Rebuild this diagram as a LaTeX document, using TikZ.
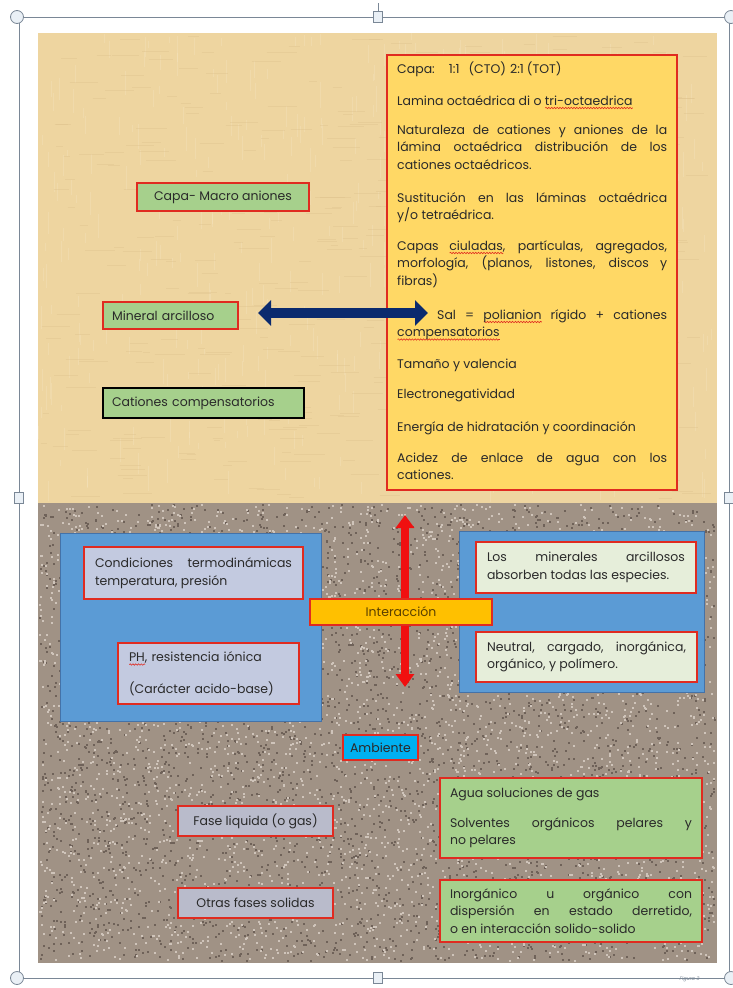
\documentclass[tikz,border=0pt]{standalone}
\usepackage{fontspec}
\setmainfont{Poppins}
\usetikzlibrary{arrows.meta,decorations.pathmorphing}
\hyphenpenalty=10000
\exhyphenpenalty=10000
\definecolor{tan}{HTML}{EED5A0}
\definecolor{tanlight}{HTML}{F6E6C2}
\definecolor{tandark}{HTML}{DCC08A}
\definecolor{granite}{HTML}{A09285}
\definecolor{gdark}{HTML}{6F6259}
\definecolor{glight}{HTML}{CFC4BA}
\definecolor{yfill}{HTML}{FFD865}
\definecolor{redb}{HTML}{E02B20}
\definecolor{gfill}{HTML}{A6D08C}
\definecolor{bfill}{HTML}{5B9BD5}
\definecolor{bline}{HTML}{4472A8}
\definecolor{lav}{HTML}{C3CAE0}
\definecolor{fasefill}{HTML}{B9BBCB}
\definecolor{cream}{HTML}{E6EEDA}
\definecolor{ofill}{HTML}{FFC000}
\definecolor{cyanf}{HTML}{00B0F0}
\definecolor{navy}{HTML}{0A2A6E}
\definecolor{rarrow}{HTML}{F01010}
\definecolor{txt}{HTML}{2A2A2A}
\definecolor{intxt}{HTML}{5A4000}
\definecolor{framec}{HTML}{7A8796}
\definecolor{handlef}{HTML}{EAF0F6}
\newsavebox\wvbox
\newcommand{\rwave}[1]{\sbox\wvbox{#1}\leavevmode\rlap{\raisebox{-3pt}[0pt][0pt]{\tikz[baseline=0pt]\draw[redb, fill=none, line width=0.6pt, decorate, decoration={snake, amplitude=0.7pt, segment length=2.8pt}] (0pt,0pt) -- (\the\wd\wvbox,0pt);}}\usebox\wvbox}
\tikzset{
  every node/.style={font=\fontsize{12.5}{17.5}\selectfont, text=txt},
  bx/.style={draw=redb, line width=1.2pt, inner sep=0pt},
  ybox/.style={bx, fill=yfill},
  gbox/.style={bx, fill=gfill},
  para/.style={text width=270pt, align=justify, inner sep=0pt, anchor=base west},
  bluebox/.style={draw=bline, line width=1pt, fill=bfill, inner sep=0pt},
  lavbox/.style={bx, fill=lav},
  creambox/.style={bx, fill=cream},
  fasebox/.style={bx, fill=fasefill},
  framel/.style={draw=framec, line width=0.8pt},
  chandle/.style={draw=framec, fill=handlef, line width=0.8pt, circle, minimum size=13pt, inner sep=0pt},
  shandle/.style={draw=framec, fill=handlef, line width=0.8pt, rectangle, minimum width=9pt, minimum height=11pt, inner sep=0pt},
}
\begin{document}
\begin{tikzpicture}[x=1pt,y=-1pt]
\useasboundingbox (0,0) rectangle (733,988);
\fill[white] (0,0) rectangle (733,988);
% frame
\draw[framel] (19,17) rectangle (729,978);
\draw[framel] (378,3) -- (378,17);
% papyrus background
\fill[tan] (38,33) rectangle (717,503);
\pgfmathsetseed{11}
\foreach \i in {1,...,450}{
  \pgfmathsetmacro{\xx}{38+675*rnd}
  \pgfmathsetmacro{\yy}{33+450*rnd}
  \pgfmathsetmacro{\ll}{6+20*rnd}
  \draw[tanlight, line width=1pt, opacity=0.35] (\xx,\yy) -- ++(0,\ll);
}
\foreach \i in {1,...,450}{
  \pgfmathsetmacro{\xx}{38+650*rnd}
  \pgfmathsetmacro{\yy}{35+466*rnd}
  \pgfmathsetmacro{\ll}{6+25*rnd}
  \draw[tandark, line width=0.8pt, opacity=0.35] (\xx,\yy) -- ++(\ll,0);
}
% granite background
\fill[granite] (38,503) rectangle (717,963);
\foreach \i in {1,...,3500}{
  \pgfmathsetmacro{\xx}{39+675*rnd}
  \pgfmathsetmacro{\yy}{504+456*rnd}
  \fill[gdark] (\xx,\yy) rectangle ++(2,2);
}
\foreach \i in {1,...,3500}{
  \pgfmathsetmacro{\xx}{39+675*rnd}
  \pgfmathsetmacro{\yy}{504+456*rnd}
  \fill[glight] (\xx,\yy) rectangle ++(2,2);
}
% handles
\node[chandle] (h1) at (17,17) {};
\node[chandle] (h2) at (731,17) {};
\node[chandle] (h3) at (17,978) {};
\node[chandle] (h4) at (731,978) {};
\node[shandle] (h5) at (378,17) {};
\node[shandle] (h6) at (378,978) {};
\node[shandle] (h7) at (19,498) {};
\node[shandle] (h8) at (729,498) {};
\node[font=\fontsize{5}{6}\selectfont\itshape, text=framec, anchor=base west] (fig) at (676,980) {Figura 3};

% upper part
\node[ybox, minimum width=290pt, minimum height=435pt] (props) at (532,272.5) {};
\node[para] (p1) at (397,73) {Capa:\hspace{14pt}1:1\hspace{9pt}(CTO)\hspace{4pt}2:1\hspace{3pt}(TOT)};
\node[para] (p2) at (397,105) {Lamina octaédrica di o \rwave{tri-octaedrica}};
\node[para] (p3) at (397,134) {Naturaleza de cationes y aniones de la\linebreak lámina octaédrica distribución de los\linebreak cationes octaédricos.};
\node[para] (p4) at (397,202) {Sustitución en las láminas octaédrica\linebreak y/o tetraédrica.};
\node[para] (p5) at (397,250) {Capas \rwave{ciuladas}, partículas, agregados,\linebreak morfología, (planos, listones, discos y\linebreak fibras)};
\node[para] (p6) at (397,319) {\hspace*{40pt}Sal = \rwave{polianion} rígido + cationes\linebreak \rwave{compensatorios}};
\node[para] (p7) at (397,368) {Tamaño y valencia};
\node[para] (p8) at (397,398) {Electronegatividad};
\node[para] (p9) at (397,431) {Energía de hidratación y coordinación};
\node[para] (p10) at (397,462) {Acidez de enlace de agua con los\linebreak cationes.};

\node[gbox, minimum width=172pt, minimum height=28pt] (capa) at (223,197) {Capa- Macro aniones};
\node[gbox, minimum width=135pt, minimum height=27pt, text width=117pt, align=left] (mineral) at (170.5,315.5) {Mineral arcilloso};
\node[gbox, draw=black, minimum width=201pt, minimum height=30pt, text width=183pt, align=left] (cationes) at (203.5,403) {Cationes compensatorios};

\coordinate (ba) at (258,313);
\coordinate (bb) at (428,313);
\draw[navy, line width=10pt, {Triangle[length=13pt,width=25pt]}-{Triangle[length=13pt,width=25pt]}] (ba) -- (bb);

% lower part
\node[bluebox, minimum width=261pt, minimum height=188pt] (lblue) at (190.5,627) {};
\node[lavbox, minimum width=219pt, minimum height=52pt, text width=197pt, align=justify] (cond) at (193.5,573) {Condiciones termodinámicas\linebreak temperatura, presión};
\node[lavbox, minimum width=181pt, minimum height=61pt, text width=159pt, align=left] (ph) at (208.5,673.5) {\rwave{PH}, resistencia iónica\\[14pt](Carácter acido-base)};

\node[bluebox, minimum width=245pt, minimum height=161pt] (rblue) at (581.5,611.5) {};
\node[creambox, minimum width=220pt, minimum height=51pt, text width=198pt, align=justify] (los) at (586,567.5) {Los minerales arcillosos\linebreak absorben todas las especies.};
\node[creambox, minimum width=221pt, minimum height=50pt, text width=199pt, align=justify] (neutral) at (586.5,657) {Neutral, cargado, inorgánica,\linebreak orgánico, y polímero.};

\coordinate (ra) at (405,515);
\coordinate (rb) at (405,687);
\draw[rarrow, line width=8pt, {Triangle[length=13pt,width=18pt]}-{Triangle[length=13pt,width=18pt]}] (ra) -- (rb);
\node[bx, fill=ofill, minimum width=182pt, minimum height=26pt, text=intxt] (inter) at (401,612) {Interacción};

\node[bx, fill=cyanf, minimum width=75pt, minimum height=25pt] (amb) at (380.5,747.5) {Ambiente};
\node[fasebox, minimum width=155pt, minimum height=30pt] (fase) at (255.5,821) {Fase liquida (o gas)};
\node[fasebox, minimum width=155pt, minimum height=30pt] (otras) at (255.5,903) {Otras fases solidas};
\node[gbox, minimum width=262pt, minimum height=80pt, text width=242pt, align=justify] (agua) at (571,818) {Agua soluciones de gas\\[12pt]Solventes orgánicos pelares y\linebreak no pelares};
\node[gbox, minimum width=262pt, minimum height=62pt, text width=242pt, align=justify] (inorg) at (571,911) {Inorgánico u orgánico con\linebreak dispersión en estado derretido,\linebreak o en interacción solido-solido};
\end{tikzpicture}
\end{document}
